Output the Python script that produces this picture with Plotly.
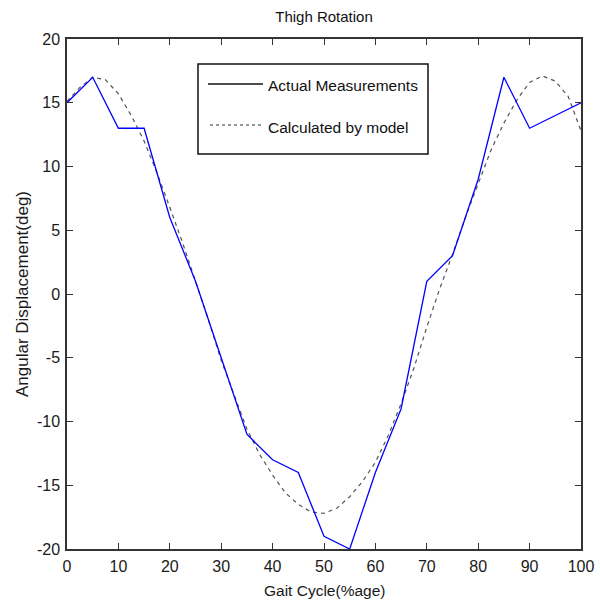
import plotly.graph_objects as go

# Actual measurements (every 5 % of gait cycle)
actual_x = [0, 5, 10, 15, 20, 25, 30, 35, 40, 45, 50, 55, 60, 65, 70, 75, 80, 85, 90, 95, 100]
actual_y = [15, 17, 13, 13, 6, 1, -5, -11, -13, -14, -19, -20, -14, -9, 1, 3, 9, 17, 13, 14, 15]

# Model curve (every 2.5 %)
model_x = [0, 2.5, 5, 7.5, 10, 12.5, 15, 17.5, 20, 22.5, 25, 27.5, 30, 32.5, 35, 37.5, 40,
           42.5, 45, 47.5, 50, 52.5, 55, 57.5, 60, 62.5, 65, 67.5, 70, 72.5, 75, 77.5, 80,
           82.5, 85, 87.5, 90, 92.5, 95, 97.5, 100]
model_y = [15.1, 16.2, 17.0, 16.8, 15.7, 14.0, 12.0, 9.5, 6.8, 4.0, 1.0, -2.0, -5.2, -7.9,
           -10.6, -12.6, -14.2, -15.6, -16.5, -17.1, -17.2, -16.8, -15.9, -14.7, -13.2, -11.1,
           -8.6, -5.8, -2.6, 0.4, 3.1, 6.0, 8.7, 11.3, 13.4, 15.2, 16.6, 17.1, 16.7, 15.5, 12.8]

x_ticks = [0, 10, 20, 30, 40, 50, 60, 70, 80, 90, 100]
y_ticks = [-20, -15, -10, -5, 0, 5, 10, 15, 20]

legend_labels = ["Actual Measurements", "Calculated by model"]

FONT = "Liberation Sans, Arial, sans-serif"
AX = "#333333"
TXT = "#1a1a1a"

W, H = 600, 603
L, T = 67, 39
R = W - 581
B = H - 549
pw, ph = W - L - R, H - T - B


def px_x(p):
    return (p - L) / pw


def px_y(p):
    return (H - B - p) / ph


fig = go.Figure()
fig.add_trace(go.Scatter(x=model_x, y=model_y, mode="lines", name=legend_labels[1],
                         line=dict(color="#555555", width=1.2, dash="4px,4px"),
                         showlegend=False, hoverinfo="x+y"))
fig.add_trace(go.Scatter(x=actual_x, y=actual_y, mode="lines", name=legend_labels[0],
                         line=dict(color="#0000ff", width=1.3),
                         showlegend=False, hoverinfo="x+y"))

axis_common = dict(showgrid=False, zeroline=False, showline=True, linecolor=AX, linewidth=1.5,
                   mirror="ticks", ticks="inside", ticklen=6, tickcolor=AX, tickwidth=1.2,
                   automargin=False,
                   tickfont=dict(family=FONT, size=16, color=TXT))

fig.update_xaxes(range=[0, 100], tickvals=x_ticks, ticktext=[str(v) for v in x_ticks],
                 ticklabelstandoff=2, **axis_common)
fig.update_yaxes(range=[-20, 20], tickvals=y_ticks, ticktext=[str(v) for v in y_ticks],
                 ticklabelstandoff=2, **axis_common)

# Axis titles
fig.add_annotation(xref="paper", yref="paper", x=0.5, y=px_y(590),
                   xanchor="center", yanchor="middle", text="Gait Cycle(%age)", showarrow=False,
                   font=dict(family=FONT, size=15.5, color=TXT))
fig.add_annotation(xref="paper", yref="paper", x=px_x(22), y=px_y(294),
                   xanchor="center", yanchor="middle", text="Angular Displacement(deg)",
                   textangle=-90, showarrow=False,
                   font=dict(family=FONT, size=17, color=TXT))

# Legend drawn as a boxed key (black samples as in the original)
fig.add_shape(type="rect", xref="paper", yref="paper", x0=px_x(198), x1=px_x(428),
              y0=px_y(154), y1=px_y(64),
              line=dict(color="#111111", width=1.5), fillcolor="white", layer="above")
fig.add_shape(type="line", xref="paper", yref="paper", x0=px_x(208), x1=px_x(263),
              y0=px_y(84), y1=px_y(84), line=dict(color="#111111", width=1.3))
fig.add_shape(type="line", xref="paper", yref="paper", x0=px_x(210), x1=px_x(263),
              y0=px_y(125), y1=px_y(125), line=dict(color="#333333", width=1.2, dash="3px,3px"))
fig.add_annotation(xref="paper", yref="paper", x=px_x(266), y=px_y(85), xanchor="left",
                   yanchor="middle", text=legend_labels[0], showarrow=False,
                   font=dict(family=FONT, size=15.5, color="#111111"))
fig.add_annotation(xref="paper", yref="paper", x=px_x(266), y=px_y(127), xanchor="left",
                   yanchor="middle", text=legend_labels[1], showarrow=False,
                   font=dict(family=FONT, size=15.5, color="#111111"))

fig.update_layout(
    width=W, height=H,
    margin=dict(l=L, r=R, t=T, b=B),
    paper_bgcolor="white", plot_bgcolor="white",
    title=dict(text="Thigh Rotation", x=(L + pw / 2) / W, xanchor="center",
               y=1 - 17 / H, yref="container", yanchor="middle",
               font=dict(family=FONT, size=15, color="#111111")),
    showlegend=False,
)

fig.write_html("out.html", config={"displayModeBar": False},
               post_script="document.body.style.margin='0';document.body.style.overflow='hidden';")
